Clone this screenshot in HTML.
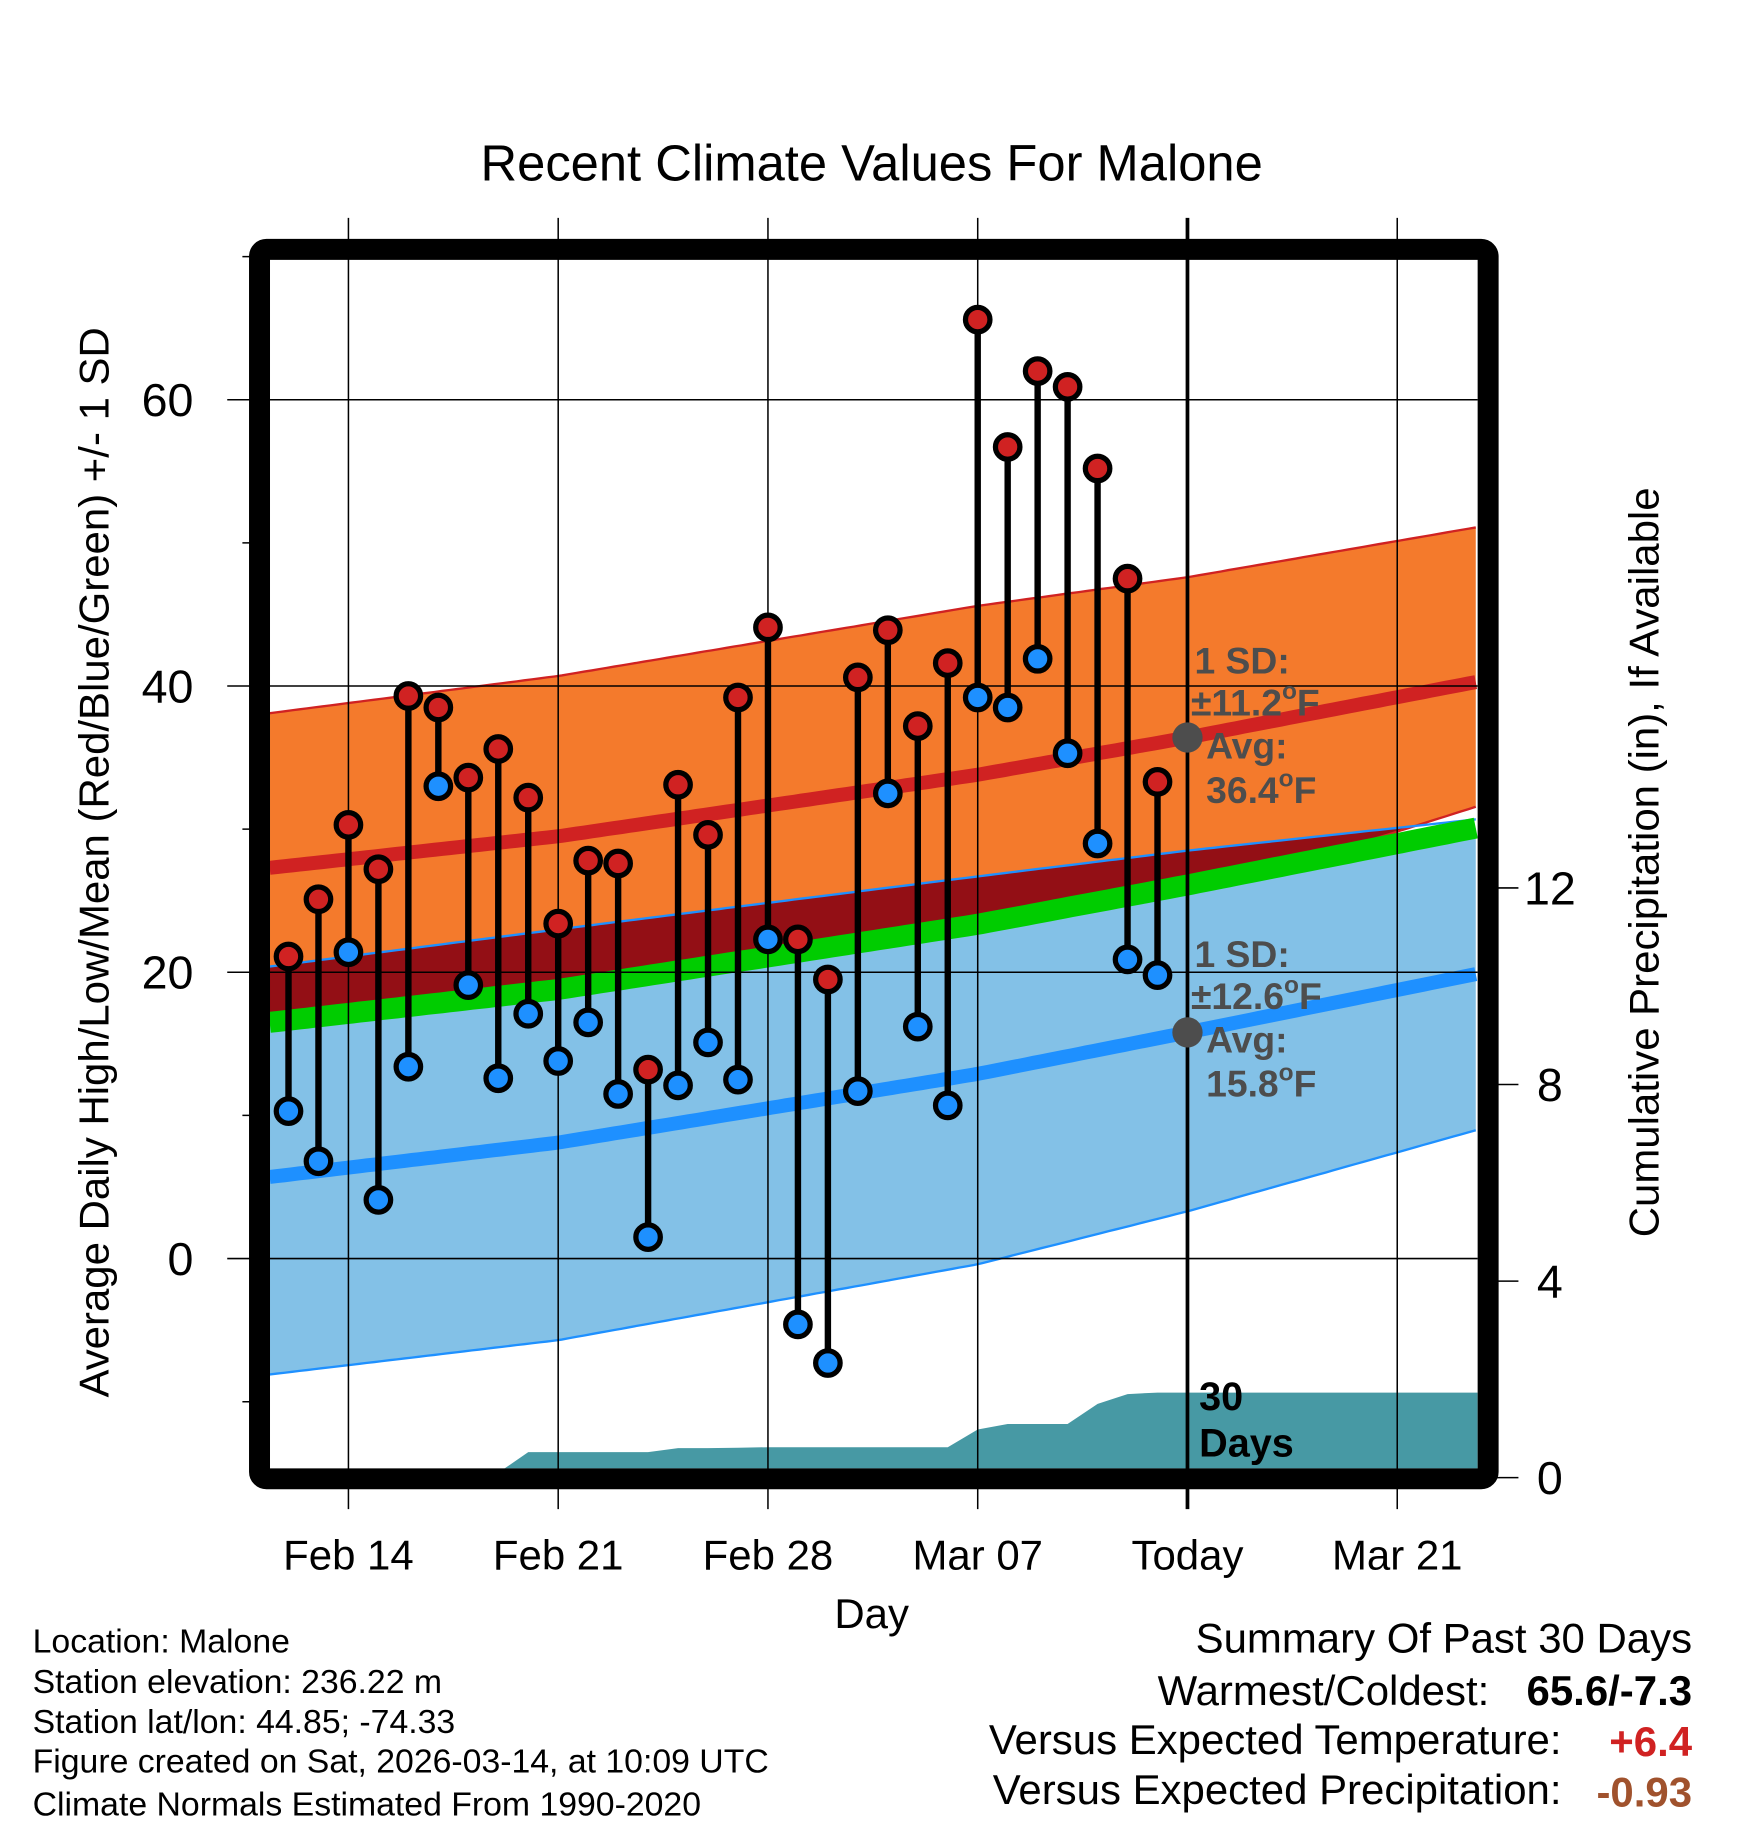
<!DOCTYPE html>
<html><head><meta charset="utf-8"><style>
html,body{margin:0;padding:0;background:#fff;}
svg{display:block;font-family:"Liberation Sans",Arial,sans-serif;}
</style></head><body>
<svg id="chart" width="1748" height="1828" viewBox="0 0 1500 1568.65" xmlns="http://www.w3.org/2000/svg">
<rect width="1500" height="1568.65" fill="#fff"/>
<defs><clipPath id="plotclip"><rect x="231.7" y="223" width="1036.3" height="1037"/></clipPath></defs>
<g id="fills" clip-path="url(#plotclip)"></g>
<g id="grid"></g>
<g id="marks"></g>
<g id="frame"></g>
<g id="labels"></g>
</svg>
<script>
// ---------- data ----------
// days measured from Feb 14 (Feb 12 = -2, Today = Mar 14 = 28)
const dayNums = [-2,-1,0,1,2,3,4,5,6,7,8,9,10,11,12,13,14,15,16,17,18,19,20,21,22,23,24,25,26,27];
const highs = [21.1,25.1,30.3,27.2,39.3,38.5,33.6,35.6,32.2,23.4,27.8,27.6,13.2,33.1,29.6,39.2,44.1,22.3,19.5,40.6,43.9,37.2,41.6,65.6,56.7,62.0,60.9,55.2,47.5,33.3];
const lows  = [10.3,6.8,21.4,4.1,13.4,33.0,19.1,12.6,17.1,13.8,16.5,11.5,1.5,12.1,15.1,12.5,22.3,-4.6,-7.3,11.7,32.5,16.2,10.7,39.2,38.5,41.9,35.3,29.0,20.9,19.8];
const precip = [0,0,0,0,0,0,0,0.1,0.52,0.52,0.52,0.52,0.52,0.6,0.6,0.61,0.62,0.62,0.62,0.62,0.62,0.62,0.62,0.98,1.09,1.09,1.09,1.5,1.7,1.73];
// climate normals sampled at days
const normDays = [-2.63,7,21,28,37.68];
const hiTop  = [38.1,40.7,45.6,47.6,51.1];
const hiMean = [27.3,29.5,33.8,36.4,40.3];
const hiBot  = [16.5,18.3,22.0,25.2,31.6];
const loTop  = [20.4,23.0,26.7,28.5,30.7];
const loMean = [5.7,8.1,12.9,15.8,19.9];
const loBot  = [-8.1,-5.7,-0.4,3.3,9.0];
const xTickDays = [0,7,14,21,28,35];
const xTickLabels = ["Feb 14","Feb 21","Feb 28","Mar 07","Today","Mar 21"];
const yTicks = [0,20,40,60];
const yMinor = [-10,10,30,50,70];
const pTicks = [0,4,8,12];

// ---------- scales ----------
const X = d => 299 + (1019-299)/28*d;
const Y = v => 1080 - 12.283*v;
const P = p => 1268 - 42.17*p;
const L=231.7,R=1268,T=223,B=1260;
const NS="http://www.w3.org/2000/svg";
function mk(tag,attrs,parent){const e=document.createElementNS(NS,tag);for(const k in attrs)e.setAttribute(k,attrs[k]);parent.appendChild(e);return e;}
function interp(arr,d){for(let i=0;i<normDays.length-1;i++){if(d<=normDays[i+1]||i==normDays.length-2){const t=(d-normDays[i])/(normDays[i+1]-normDays[i]);return arr[i]+(arr[i+1]-arr[i])*t;}}}
const meanAt=d=>(interp(hiMean,d)+interp(loMean,d))/2;
const dense=[];for(let d=normDays[0];d<=normDays[4]+0.001;d+=0.25)dense.push(d);
const line=(f)=>dense.map(d=>X(d).toFixed(1)+","+Y(f(d)).toFixed(1)).join(" ");
const band=(ft,fb)=>dense.map(d=>X(d).toFixed(1)+","+Y(ft(d)).toFixed(1)).concat(dense.slice().reverse().map(d=>X(d).toFixed(1)+","+Y(fb(d)).toFixed(1))).join(" ");

const fills=document.getElementById('fills');
let e;
e=mk('polygon',{points:band(d=>interp(hiTop,d),d=>interp(hiBot,d)),fill:'#f47a2c'},fills);


e=mk('polygon',{points:band(d=>interp(loTop,d),d=>Math.min(interp(hiBot,d),interp(loTop,d))),fill:'#930f15'},fills);


[[hiTop,'#d02222'],[hiBot,'#d02222'],[loTop,'#1e90ff']].forEach(([a,c])=>{
  e=mk('polyline',{points:line(d=>interp(a,d)),fill:'none',stroke:c,'stroke-width':2},fills);
  
  
});
e=mk('polygon',{points:band(d=>meanAt(d),d=>interp(loBot,d)),fill:'#83c1e7'},fills);


e=mk('polyline',{points:line(d=>interp(loBot,d)),fill:'none',stroke:'#1e90ff','stroke-width':2},fills);


e=mk('polyline',{points:line(d=>interp(hiMean,d)),fill:'none',stroke:'#d02222','stroke-width':12},fills);


e=mk('polyline',{points:line(d=>interp(loMean,d)),fill:'none',stroke:'#1e90ff','stroke-width':12},fills);


e=mk('polyline',{points:line(d=>meanAt(d)),fill:'none',stroke:'#00cc00','stroke-width':18},fills);


// precip area
let pp=[L+","+P(0)];
dayNums.forEach((d,i)=>pp.push(X(d).toFixed(1)+","+P(precip[i]).toFixed(1)));
pp.push(R+","+P(precip[precip.length-1]).toFixed(1));pp.push(R+","+P(0));
e=mk('polygon',{points:pp.join(" "),fill:'#4799a4'},fills);



// grid
const grid=document.getElementById('grid');
xTickDays.forEach((d,i)=>{
  e=mk('line',{x1:X(d),x2:X(d),y1:187,y2:1295,stroke:'#000','stroke-width':i==4?3.2:1.3},grid);
  
  
});
yTicks.forEach(v=>{
  e=mk('line',{x1:195,x2:R,y1:Y(v),y2:Y(v),stroke:'#000','stroke-width':1.3},grid);
  
  
});
yMinor.forEach(v=>{
  e=mk('line',{x1:208,x2:225,y1:Y(v),y2:Y(v),stroke:'#000','stroke-width':1.3},grid);
  
  
});
pTicks.forEach(p=>{
  e=mk('line',{x1:1277,x2:1303,y1:P(p),y2:P(p),stroke:'#000','stroke-width':1.3},grid);
  
  
});

// marks
const marks=document.getElementById('marks');
dayNums.forEach((d,i)=>{
  const x=X(d);
  e=mk('line',{x1:x,x2:x,y1:Y(highs[i]),y2:Y(lows[i]),stroke:'#000','stroke-width':5.5},marks);
  
  
});
dayNums.forEach((d,i)=>{
  const x=X(d);
  e=mk('circle',{cx:x,cy:Y(highs[i]),r:10.5,fill:'#d02222',stroke:'#000','stroke-width':4.5},marks);
  
  
  e=mk('circle',{cx:x,cy:Y(lows[i]),r:10.5,fill:'#1e90ff',stroke:'#000','stroke-width':4.5},marks);
  
  
});
e=mk('circle',{cx:X(28),cy:Y(interp(hiMean,28)),r:13,fill:'#4d4d4d'},marks);


e=mk('circle',{cx:X(28),cy:Y(interp(loMean,28)),r:13,fill:'#4d4d4d'},marks);



// frame
e=mk('rect',{x:222.7,y:214,width:1054.3,height:1055,rx:6,fill:'none',stroke:'#000','stroke-width':18},document.getElementById('frame'));



// labels
const lab=document.getElementById('labels');
function txt(s,attrs,name){const t=mk('text',attrs,lab);t.textContent=s;return t;}
xTickDays.forEach((d,i)=>txt(xTickLabels[i],{x:X(d),y:1347,'font-size':36,'text-anchor':'middle'},'x-tick-label'));
yTicks.forEach(v=>txt(String(v),{x:166,y:Y(v)+14,'font-size':40,'text-anchor':'end'},'y-tick-label'));
pTicks.forEach(p=>txt(String(p),{x:1330,y:P(p)+14,'font-size':40,'text-anchor':'middle'},'precip-tick-label'));
</script>
<svg style="position:absolute;left:0;top:0" width="1748" height="1828" viewBox="0 0 1500 1568.65" xmlns="http://www.w3.org/2000/svg" font-family="Liberation Sans, Arial, sans-serif">
<text x="748" y="155" font-size="43.5" text-anchor="middle">Recent Climate Values For Malone</text>
<text x="748" y="1397" font-size="36" text-anchor="middle">Day</text>
<text transform="translate(93,740) rotate(-90)" font-size="36" text-anchor="middle">Average Daily High/Low/Mean (Red/Blue/Green) +/- 1 SD</text>
<text transform="translate(1423,740) rotate(-90)" font-size="36" text-anchor="middle">Cumulative Precipitation (in), If Available</text>
<g font-size="32" font-weight="bold" fill="#4d4d4d">
<text x="1025" y="578">1 SD:</text>
<text x="1022" y="614">±11.2<tspan font-size="21" dy="-14">o</tspan><tspan dy="14">F</tspan></text>
<text x="1035" y="651">Avg:</text>
<text x="1035" y="689">36.4<tspan font-size="21" dy="-14">o</tspan><tspan dy="14">F</tspan></text>
</g>
<g font-size="32" font-weight="bold" fill="#4d4d4d">
<text x="1025" y="830">1 SD:</text>
<text x="1022" y="866">±12.6<tspan font-size="21" dy="-14">o</tspan><tspan dy="14">F</tspan></text>
<text x="1035" y="903">Avg:</text>
<text x="1035" y="941">15.8<tspan font-size="21" dy="-14">o</tspan><tspan dy="14">F</tspan></text>
</g>
<g font-size="34" font-weight="bold" fill="#000">
<text x="1029" y="1210">30</text>
<text x="1029" y="1250">Days</text>
</g>
<g font-size="29" fill="#000">
<text x="28" y="1418">Location: Malone</text>
<text x="28" y="1453">Station elevation: 236.22 m</text>
<text x="28" y="1487">Station lat/lon: 44.85; -74.33</text>
<text x="28" y="1521">Figure created on Sat, 2026-03-14, at 10:09 UTC</text>
<text x="28" y="1558">Climate Normals Estimated From 1990-2020</text>
</g>
<g font-size="36" fill="#000">
<text x="1452" y="1418" text-anchor="end">Summary Of Past 30 Days</text>
<text x="1278" y="1463" text-anchor="end">Warmest/Coldest:</text>
<text x="1452" y="1463" text-anchor="end" font-weight="bold">65.6/-7.3</text>
<text x="1340" y="1505" text-anchor="end">Versus Expected Temperature:</text>
<text x="1452" y="1507" text-anchor="end" font-weight="bold" fill="#d02222">+6.4</text>
<text x="1340" y="1548" text-anchor="end">Versus Expected Precipitation:</text>
<text x="1452" y="1550" text-anchor="end" font-weight="bold" fill="#a0522d">-0.93</text>
</g>
</svg>
</body></html>
